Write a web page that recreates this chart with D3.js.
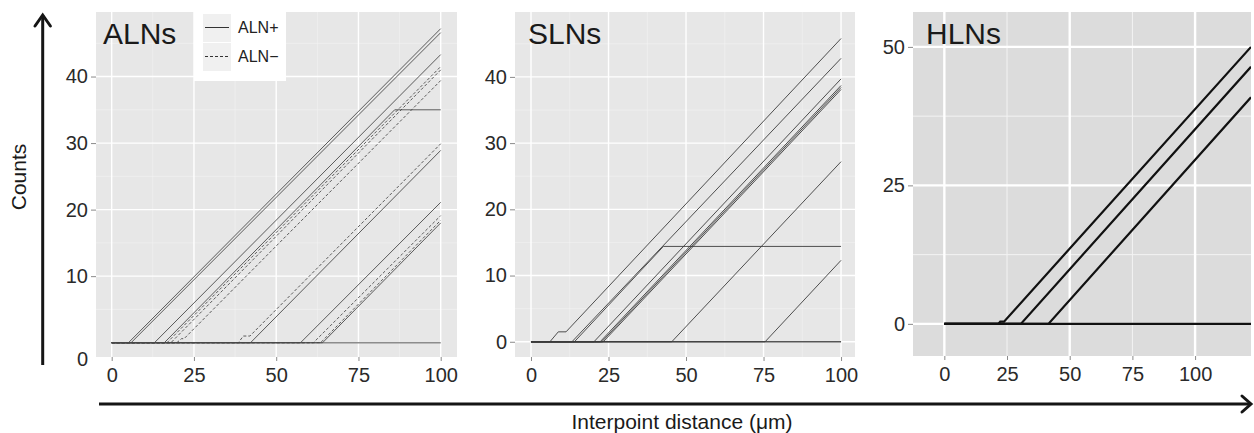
<!DOCTYPE html>
<html>
<head>
<meta charset="utf-8">
<script src="https://cdn.jsdelivr.net/npm/d3@7"></script>
<style>
  html, body { margin: 0; padding: 0; background: #fff; }
  svg { display: block; font-family: "Liberation Sans", Arial, sans-serif; }
</style>
</head>
<body>
<svg id="chart" width="1254" height="433"></svg>
<script>
// ---------------- DATA ----------------
const panelTitles = ["ALNs", "SLNs", "HLNs"];
const xTickValues = [0, 25, 50, 75, 100];
const yTickValuesAS = [0, 10, 20, 30, 40];
const yTickValuesH = [0, 25, 50];
const legendLabels = ["ALN+", "ALN\u2212"];
const xAxisTitle = "Interpoint distance (\u03bcm)";
const yAxisTitle = "Counts";

// ALN+ curves (solid): [distance, count] vertices
const alnPlus = [
  [[0, 0], [5.1, 0], [100, 47.2]],
  [[0, 0], [5.9, 0], [100, 46.6]],
  [[0, 0], [13.0, 0], [100, 43.3]],
  [[0, 0], [16.0, 0], [86.0, 35.0], [100, 35.0]],
  [[0, 0], [42.2, 0], [100, 28.9]],
  [[0, 0], [57.4, 0], [100, 21.1]],
  [[0, 0], [64.1, 0], [100, 18.0]]
];
// ALN- curves (dashed)
const alnMinus = [
  [[0, 0], [16.8, 0], [100, 41.5]],
  [[0, 0], [18.0, 0], [100, 41.0]],
  [[0, 0], [19.8, 0], [21.2, 0.6], [22.0, 0.6], [100, 39.4]],
  [[0, 0], [38.5, 0], [40.0, 1.0], [42.0, 1.0], [100, 29.9]],
  [[0, 0], [61.3, 0], [100, 19.1]],
  [[0, 0], [63.5, 0], [100, 18.4]]
];
// SLN curves
const slnCurves = [
  [[0, 0], [6.1, 0], [8.8, 1.5], [11.3, 1.5], [100, 45.8]],
  [[0, 0], [13.2, 0], [100, 42.8]],
  [[0, 0], [14.0, 0], [42.7, 14.4], [100, 14.4]],
  [[0, 0], [20.3, 0], [100, 39.7]],
  [[0, 0], [22.3, 0], [100, 38.7]],
  [[0, 0], [22.8, 0], [100, 38.4]],
  [[0, 0], [23.3, 0], [100, 38.1]],
  [[0, 0], [45.4, 0], [100, 27.2]],
  [[0, 0], [75.5, 0], [100, 12.3]]
];
// HLN curves
const hlnCurves = [
  [[0, 0], [21.5, 0], [22.3, 0.4], [23.8, 0.4], [122.3, 50.0]],
  [[0, 0], [30.5, 0], [122.3, 46.4]],
  [[0, 0], [41.5, 0], [122.3, 40.9]],
  [[0, 0], [122.3, 0]]
];

// ---------------- LAYOUT ----------------
const svg = d3.select("#chart");
const FONT = "'Liberation Sans', Arial, sans-serif";

const panels = [
  { title: panelTitles[0], xd: [-4.77, 104.95], xr: [96, 457], yd: [-2.15, 49.7], yr: [357, 12],
    bg: "#e7e7e7", yTicks: yTickValuesAS, yMinor: [5, 15, 25, 35, 45], xMajor: [0, 25, 50, 75, 100],
    xMinor: [12.5, 37.5, 62.5, 87.5], yMajor: [10, 20, 30, 40], majW: 1.4, minW: 0.6, titleX: 103 },
  { title: panelTitles[1], xd: [-5.16, 104.5], xr: [515, 855], yd: [-2.3, 49.8], yr: [357, 12],
    bg: "#e7e7e7", yTicks: yTickValuesAS, yMinor: [5, 15, 25, 35, 45], xMajor: [0, 25, 50, 75, 100],
    xMinor: [12.5, 37.5, 62.5, 87.5], yMajor: [0, 10, 20, 30, 40], majW: 1.4, minW: 0.6, titleX: 528 },
  { title: panelTitles[2], xd: [-12.5, 122.3], xr: [913, 1251], yd: [-5.8, 56.3], yr: [356, 12],
    bg: "#dcdcdc", yTicks: yTickValuesH, yMinor: [12.5, 37.5], xMajor: [0, 50, 100],
    xMinor: [25, 75], yMajor: [0, 25, 50], majW: 2.4, minW: 1.0, titleX: 926 }
];

panels.forEach((p, i) => {
  const x = d3.scaleLinear().domain(p.xd).range(p.xr);
  const y = d3.scaleLinear().domain(p.yd).range(p.yr);
  p.x = x; p.y = y;
  const g = svg.append("g");
  const [x0, x1] = p.xr, [y1, y0] = p.yr;

  g.append("rect").attr("x", x0).attr("y", y0).attr("width", x1 - x0).attr("height", y1 - y0)
    .attr("fill", p.bg);

  const clipId = "clip" + i;
  svg.append("clipPath").attr("id", clipId).append("rect")
    .attr("x", x0).attr("y", y0).attr("width", x1 - x0).attr("height", y1 - y0);

  // grid
  g.selectAll(".gxm").data(p.xMinor).join("line")
    .attr("x1", d => x(d)).attr("x2", d => x(d)).attr("y1", y0).attr("y2", y1)
    .attr("stroke", "#f3f3f3").attr("stroke-width", p.minW);
  g.selectAll(".gym").data(p.yMinor).join("line")
    .attr("y1", d => y(d)).attr("y2", d => y(d)).attr("x1", x0).attr("x2", x1)
    .attr("stroke", "#f3f3f3").attr("stroke-width", p.minW);
  g.selectAll(".gxM").data(p.xMajor).join("line")
    .attr("x1", d => x(d)).attr("x2", d => x(d)).attr("y1", y0).attr("y2", y1)
    .attr("stroke", "#fff").attr("stroke-width", p.majW);
  g.selectAll(".gyM").data(p.yMajor).join("line")
    .attr("y1", d => y(d)).attr("y2", d => y(d)).attr("x1", x0).attr("x2", x1)
    .attr("stroke", "#fff").attr("stroke-width", p.majW);

  // axes
  const ya = g.append("g").attr("transform", `translate(${x0},0)`)
    .call(d3.axisLeft(y).tickValues(p.yTicks).tickSize(5).tickPadding(3).tickFormat(d3.format("d")));
  const xa = g.append("g").attr("transform", `translate(0,${y1})`)
    .call(d3.axisBottom(x).tickValues(xTickValues).tickSize(4).tickPadding(7).tickFormat(d3.format("d")));
  [ya, xa].forEach(a => {
    a.select(".domain").remove();
    a.selectAll(".tick line").attr("stroke", "#8a8a8a");
    a.selectAll(".tick text").attr("font-size", 20).attr("fill", "#2a2a2a").attr("font-family", FONT);
  });
  if (i === 0) {
    // the zero label of the first panel sits below the baseline in the original
    ya.selectAll(".tick").filter(d => d === 0).select("text").attr("dy", "1.15em");
    ya.selectAll(".tick").filter(d => d === 0).select("line").remove();
  }

  // title
  g.append("text").attr("x", p.titleX).attr("y", 43.5).text(p.title)
    .attr("font-size", 30).attr("fill", "#1a1a1a").attr("font-family", FONT);

  p.g = g; p.clipId = clipId;
});

const lineGen = (p) => d3.line().x(d => p.x(d[0])).y(d => p.y(d[1]));

// Panel 1 curves
{
  const p = panels[0];
  const lg = p.g.append("g").attr("clip-path", `url(#${p.clipId})`);
  lg.append("line").attr("x1", p.x(0)).attr("x2", p.x(100)).attr("y1", p.y(0)).attr("y2", p.y(0))
    .attr("stroke", "#8c8c8c").attr("stroke-width", 1.6);
  lg.selectAll(".pos").data(alnPlus).join("path").attr("d", lineGen(p))
    .attr("fill", "none").attr("stroke", "#4a4a4a").attr("stroke-width", 0.9);
  lg.selectAll(".neg").data(alnMinus).join("path").attr("d", lineGen(p))
    .attr("fill", "none").attr("stroke", "#4a4a4a").attr("stroke-width", 0.9)
    .attr("stroke-dasharray", "3,2");

  // legend
  const leg = p.g.append("g");
  leg.append("rect").attr("x", 194).attr("y", 12).attr("width", 92).attr("height", 69).attr("fill", "#fff");
  legendLabels.forEach((lab, k) => {
    const ky = 14 + k * 29;
    leg.append("rect").attr("x", 203).attr("y", ky).attr("width", 28).attr("height", 28).attr("fill", "#f0f0f0");
    leg.append("line").attr("x1", 205).attr("x2", 229).attr("y1", ky + 13.5).attr("y2", ky + 13.5)
      .attr("stroke", "#333").attr("stroke-width", 1)
      .attr("stroke-dasharray", k === 1 ? "3,2" : null);
    leg.append("text").attr("x", 238).attr("y", ky + 19).text(lab)
      .attr("font-size", 16).attr("fill", "#222").attr("font-family", FONT);
  });
}

// Panel 2 curves
{
  const p = panels[1];
  const lg = p.g.append("g").attr("clip-path", `url(#${p.clipId})`);
  lg.append("line").attr("x1", p.x(0)).attr("x2", p.x(100)).attr("y1", p.y(0)).attr("y2", p.y(0))
    .attr("stroke", "#555").attr("stroke-width", 1.4);
  lg.selectAll(".sl").data(slnCurves).join("path").attr("d", lineGen(p))
    .attr("fill", "none").attr("stroke", "#3c3c3c").attr("stroke-width", 0.9);
}

// Panel 3 curves
{
  const p = panels[2];
  const lg = p.g.append("g").attr("clip-path", `url(#${p.clipId})`);
  lg.selectAll(".hl").data(hlnCurves).join("path").attr("d", lineGen(p))
    .attr("fill", "none").attr("stroke", "#111").attr("stroke-width", 2.2);
}

// ---------------- OUTER ARROWS & TITLES ----------------
const ink = "#151515";
svg.append("line").attr("x1", 42.7).attr("x2", 42.7).attr("y1", 15).attr("y2", 365)
  .attr("stroke", ink).attr("stroke-width", 3);
svg.append("path").attr("d", "M35,26 L42.7,15 L50.4,26").attr("fill", "none")
  .attr("stroke", ink).attr("stroke-width", 3).attr("stroke-linecap", "round");
svg.append("line").attr("x1", 99).attr("x2", 1250).attr("y1", 404).attr("y2", 404)
  .attr("stroke", ink).attr("stroke-width", 3);
svg.append("path").attr("d", "M1242,396 L1251,404 L1242,412").attr("fill", "none")
  .attr("stroke", ink).attr("stroke-width", 3).attr("stroke-linecap", "round");

svg.append("text").attr("transform", "translate(26,177) rotate(-90)").attr("text-anchor", "middle")
  .text(yAxisTitle).attr("font-size", 21).attr("fill", "#1a1a1a").attr("font-family", FONT);
svg.append("text").attr("x", 682).attr("y", 429).attr("text-anchor", "middle")
  .text(xAxisTitle).attr("font-size", 21).attr("fill", "#1a1a1a").attr("font-family", FONT);
</script>
</body>
</html>
